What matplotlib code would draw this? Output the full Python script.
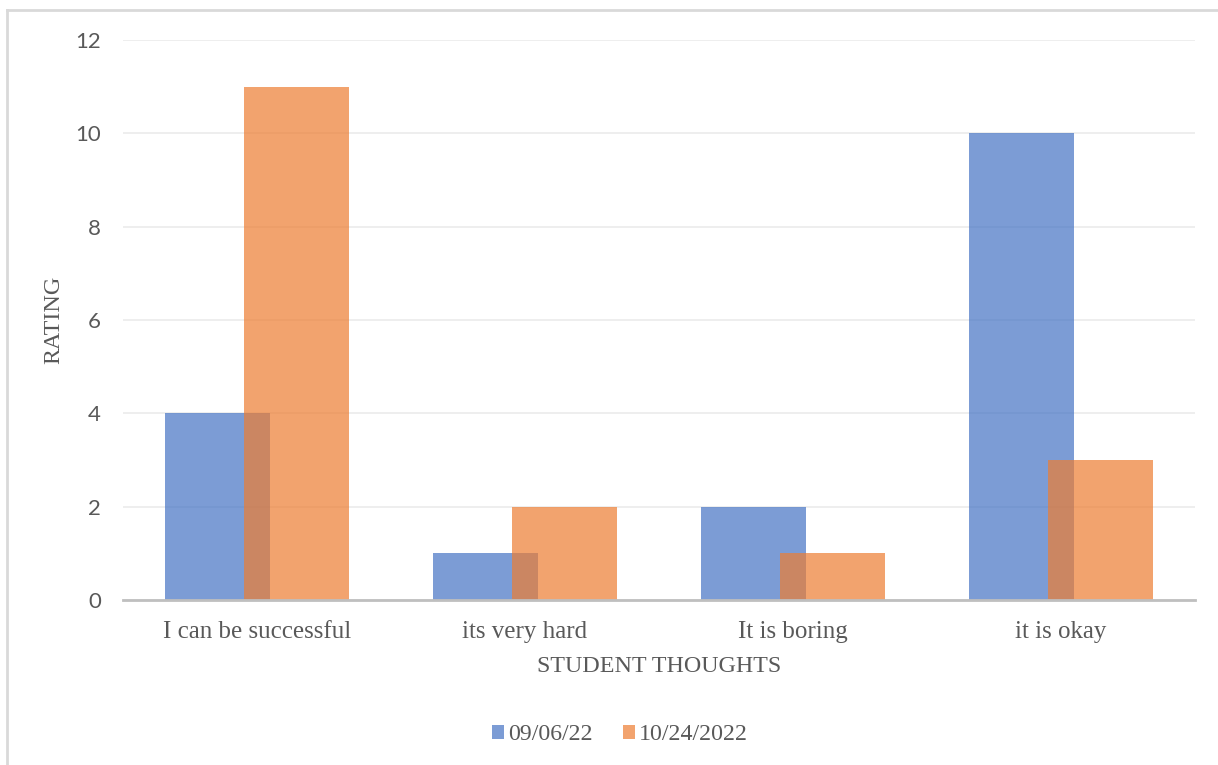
import matplotlib
matplotlib.use("Agg")
import matplotlib.pyplot as plt
from matplotlib.lines import Line2D
import numpy as np

categories = ["I can be successful", "its very hard", "It is boring", "it is okay"]
series_names = ["09/06/22", "10/24/2022"]
values_0906 = [4, 1, 2, 10]
values_1024 = [11, 2, 1, 3]
yticks = [0, 2, 4, 6, 8, 10, 12]

blue = "#4472C4"
orange = "#ED7D31"
serif = ["Liberation Serif", "DejaVu Serif"]
sans = ["Lato", "Open Sans", "DejaVu Sans"]
txt = "#595959"

W, H = 1218, 765
fig = plt.figure(figsize=(W / 100, H / 100), dpi=100)
ax = fig.add_axes([123 / W, 1 - 600 / H, (1195 - 123) / W, (600 - 40) / H])

x = np.arange(len(categories))
width = 0.39
off = 0.147
ax.bar(x - off, values_0906, width, color=blue, alpha=0.7, linewidth=0, label=series_names[0], zorder=2)
ax.bar(x + off, values_1024, width, color=orange, alpha=0.7, linewidth=0, label=series_names[1], zorder=3)

ax.set_xlim(-0.5, len(categories) - 0.5)
ax.set_ylim(0, 12)
ax.set_yticks(yticks)
ax.set_yticklabels([str(t) for t in yticks], family=sans, fontsize=16, color=txt)
ax.set_xticks(x)
ax.set_xticklabels(categories, family=serif, fontsize=18, color=txt)
ax.tick_params(axis="both", length=0)
ax.tick_params(axis="y", pad=16)
ax.tick_params(axis="x", pad=15)
ax.grid(axis="y", color="#EBEBEB", linewidth=1.2, zorder=0)
ax.set_axisbelow(True)
for s in ["top", "right", "left"]:
    ax.spines[s].set_visible(False)
ax.spines["bottom"].set_color("#BFBFBF")
ax.spines["bottom"].set_linewidth(2)
ax.spines["bottom"].set_zorder(4)

fig.text(54 / W, 1 - 320 / H, "RATING", rotation=90, ha="center", va="center",
         family=serif, fontsize=17.3, color=txt)
fig.text(659 / W, 1 - 666 / H, "STUDENT THOUGHTS", ha="center", va="center",
         family=serif, fontsize=17.3, color=txt)

handles = [plt.Rectangle((0, 0), 1, 1, facecolor=blue, alpha=0.7, linewidth=0),
           plt.Rectangle((0, 0), 1, 1, facecolor=orange, alpha=0.7, linewidth=0)]
leg = fig.legend(handles, series_names, loc="center", bbox_to_anchor=(620 / W, 1 - 735 / H),
                 ncol=2, frameon=False, prop={"family": serif, "size": 17.2},
                 handlelength=0.5, handleheight=0.5, handletextpad=0.15, columnspacing=1.3)
for t in leg.get_texts():
    t.set_color(txt)

# outer chart border (left and top edges)
fig.add_artist(Line2D([7 / W, 7 / W], [0, 1 - 10 / H], color="#D9D9D9", linewidth=2,
                      transform=fig.transFigure))
fig.add_artist(Line2D([7 / W, 1], [1 - 10 / H, 1 - 10 / H], color="#D9D9D9", linewidth=2,
                      transform=fig.transFigure))

fig.savefig("out.png", dpi=100)
